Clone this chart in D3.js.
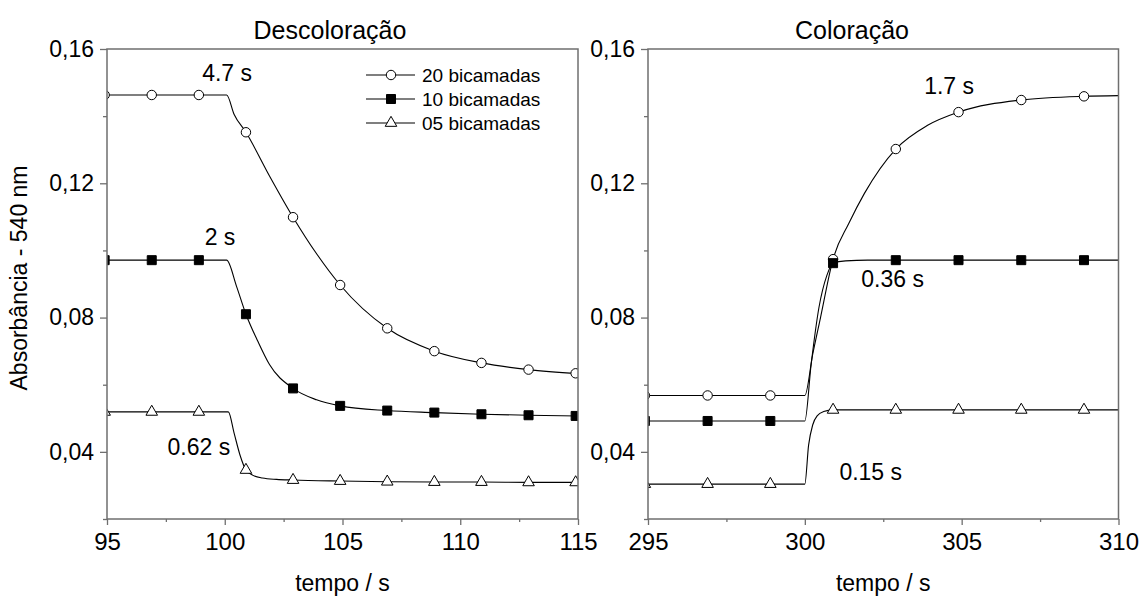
<!DOCTYPE html>
<html>
<head>
<meta charset="utf-8">
<script src="https://cdn.jsdelivr.net/npm/d3@7"></script>
<style>
  body { margin: 0; background: #fff; }
  svg { font-family: "Liberation Sans", Arial, sans-serif; }
  .frame { fill: none; stroke: #6f6f6f; stroke-width: 1.5; }
  .tick line { stroke: #6f6f6f; stroke-width: 1.3; }
  .domain { display: none; }
  .tick text { fill: #000; }
  path.curve { fill: none; stroke: #000; stroke-width: 1.1; }
</style>
</head>
<body>
<div id="chart"></div>
<script>
// valores (absorbância a 540 nm)
var series = ["20 bicamadas", "10 bicamadas", "05 bicamadas"];
var symbols = ["circle", "square", "triangle"];

// Descoloração
var descT = [94.9, 96.9, 98.9, 100.9, 102.9, 104.9, 106.9, 108.9, 110.9, 112.9, 114.9];
var desc20 = [0.1463, 0.1463, 0.1463, 0.1352, 0.1099, 0.0897, 0.0768, 0.0700, 0.0665, 0.0645, 0.0634];
var desc10 = [0.0971, 0.0971, 0.0971, 0.0810, 0.0589, 0.0537, 0.0523, 0.0517, 0.0512, 0.0509, 0.0507];
var desc05 = [0.0519, 0.0519, 0.0519, 0.0346, 0.0316, 0.0313, 0.0311, 0.0310, 0.0310, 0.0309, 0.0309];

var descLineT20 = [95, 100.08, 100.4, 100.9, 101.9, 102.9, 103.9, 104.9, 106.9, 108.9, 110.9, 112.9, 115];
var descLine20 = [0.1463, 0.1463, 0.1405, 0.1352, 0.1222, 0.1099, 0.0990, 0.0897, 0.0768, 0.0700, 0.0665, 0.0645, 0.0633];
var descLineT10 = [95, 100.08, 100.5, 100.9, 101.4, 101.9, 102.9, 103.9, 104.9, 106.9, 108.9, 110.9, 112.9, 115];
var descLine10 = [0.0971, 0.0971, 0.0893, 0.0810, 0.0730, 0.0660, 0.0589, 0.0555, 0.0537, 0.0523, 0.0517, 0.0512, 0.0509, 0.0507];
var descLineT05 = [95, 100.15, 100.4, 100.65, 100.9, 101.2, 101.6, 102.2, 102.9, 104.9, 106.9, 108.9, 110.9, 112.9, 115];
var descLine05 = [0.0519, 0.0519, 0.0455, 0.0390, 0.0346, 0.0330, 0.0322, 0.0318, 0.0316, 0.0313, 0.0311, 0.0310, 0.0310, 0.0309, 0.0309];

// Coloração
var colT = [294.9, 296.9, 298.9, 300.9, 302.9, 304.9, 306.9, 308.9];
var col20 = [0.0568, 0.0568, 0.0568, 0.0974, 0.1302, 0.1412, 0.1448, 0.1459];
var col10 = [0.0492, 0.0492, 0.0492, 0.0962, 0.0971, 0.0971, 0.0971, 0.0971];
var col05 = [0.0304, 0.0304, 0.0304, 0.0525, 0.0525, 0.0525, 0.0525, 0.0525];

var colLineT20 = [295, 300.0, 300.25, 300.5, 300.9, 301.4, 301.9, 302.9, 303.9, 304.9, 306.9, 308.9, 310];
var colLine20 = [0.0568, 0.0568, 0.0690, 0.0800, 0.0974, 0.1080, 0.1170, 0.1302, 0.1372, 0.1412, 0.1448, 0.1459, 0.1461];
var colLineT10 = [295, 300.0, 300.2, 300.45, 300.7, 300.9, 301.3, 302, 310];
var colLine10 = [0.0492, 0.0492, 0.0660, 0.0830, 0.0925, 0.0962, 0.0969, 0.0971, 0.0971];
var colLineT05 = [295, 300.0, 300.12, 300.25, 300.4, 300.6, 300.9, 310];
var colLine05 = [0.0304, 0.0304, 0.0420, 0.0480, 0.0508, 0.0520, 0.0525, 0.0525];

var yTicks = [0.04, 0.08, 0.12, 0.16];
var yMinor = [0.02, 0.06, 0.10, 0.14];
var descTicks = [95, 100, 105, 110, 115];
var descMinor = [97.5, 102.5, 107.5, 112.5];
var colTicks = [295, 300, 305, 310];
var colMinor = [297.5, 302.5, 307.5];

var annDesc = [{label: "4.7 s", t: 100.1, v: 0.1530}, {label: "2 s", t: 99.8, v: 0.1040}, {label: "0.62 s", t: 98.9, v: 0.0415}];
var annCol = [{label: "1.7 s", t: 304.6, v: 0.1489}, {label: "0.36 s", t: 302.8, v: 0.0915}, {label: "0.15 s", t: 302.1, v: 0.0340}];

var w = 1142, h = 597;
var top_ = 49, bottom = 519;
var svg = d3.select("#chart").append("svg").attr("width", w).attr("height", h);

var y = d3.scaleLinear().domain([0.02, 0.16]).range([bottom, top_]);
var fmt = function(d) { return d3.format(".2f")(d).replace(".", ","); };

function zip(ts, vs) { return ts.map(function(t, i) { return {t: t, v: vs[i]}; }); }

function panel(id, x0, x1, domain, ticks, minor, title, titleX, lines, markT, marks, ann) {
  var x = d3.scaleLinear().domain(domain).range([x0, x1]);
  var g = svg.append("g").attr("class", "panel-" + id);

  svg.append("clipPath").attr("id", "clip-" + id)
    .append("rect").attr("x", x0).attr("y", top_).attr("width", x1 - x0).attr("height", bottom - top_);

  // eixos
  g.append("g").attr("transform", "translate(0," + bottom + ")")
    .call(d3.axisBottom(x).tickValues(ticks).tickSize(6).tickPadding(8).tickSizeOuter(0).tickFormat(d3.format("d")))
    .call(function(s) { s.selectAll("text").attr("font-size", 24); });
  g.append("g").attr("transform", "translate(0," + bottom + ")")
    .call(d3.axisBottom(x).tickValues(minor).tickSize(3).tickFormat(""));
  g.append("g").attr("transform", "translate(" + x0 + ",0)")
    .call(d3.axisLeft(y).tickValues(yTicks).tickSize(7).tickPadding(6).tickSizeOuter(0).tickFormat(fmt))
    .call(function(s) { s.selectAll("text").attr("font-size", 23); });
  g.append("g").attr("transform", "translate(" + x0 + ",0)")
    .call(d3.axisLeft(y).tickValues(yMinor).tickSize(4).tickFormat(""));

  var plot = g.append("g").attr("clip-path", "url(#clip-" + id + ")");
  var line = d3.line().x(function(d) { return x(d.t); }).y(function(d) { return y(d.v); }).curve(d3.curveMonotoneX);

  lines.forEach(function(l) {
    plot.append("path").attr("class", "curve").attr("d", line(l));
  });

  marks.forEach(function(vals, i) {
    plot.selectAll("path.m" + i)
      .data(zip(markT, vals))
      .enter().append("path")
      .attr("class", "m" + i)
      .attr("transform", function(d) { return "translate(" + x(d.t) + "," + y(d.v) + ")"; })
      .attr("d", symbolPath(symbols[i]))
      .attr("fill", symbols[i] == "square" ? "#000" : "#fff")
      .attr("stroke", "#000").attr("stroke-width", 1);
  });

  g.append("rect").attr("class", "frame")
    .attr("x", x0).attr("y", top_).attr("width", x1 - x0).attr("height", bottom - top_);

  g.selectAll("text.ann").data(ann).enter().append("text")
    .attr("class", "ann")
    .attr("x", function(d) { return x(d.t); })
    .attr("y", function(d) { return y(d.v); })
    .attr("text-anchor", "middle").attr("dominant-baseline", "central")
    .attr("font-size", 23)
    .text(function(d) { return d.label; });

  g.append("text").attr("x", titleX).attr("y", 39).attr("text-anchor", "middle")
    .attr("font-size", 25).text(title);
  g.append("text").attr("x", (x0 + x1) / 2).attr("y", 591).attr("text-anchor", "middle")
    .attr("font-size", 23).text("tempo / s");
  return x;
}

function symbolPath(name) {
  if (name == "circle") return d3.symbol(d3.symbolCircle, 70)();
  if (name == "square") return d3.symbol(d3.symbolSquare, 81)();
  return d3.symbol(d3.symbolTriangle, 58)();
}

panel("desc", 107, 578, [95, 115], descTicks, descMinor, "Descoloração", 330,
  [zip(descLineT20, descLine20), zip(descLineT10, descLine10), zip(descLineT05, descLine05)],
  descT, [desc20, desc10, desc05], annDesc);

panel("col", 648, 1118.5, [295, 310], colTicks, colMinor, "Coloração", 852,
  [zip(colLineT20, colLine20), zip(colLineT10, colLine10), zip(colLineT05, colLine05)],
  colT, [col20, col10, col05], annCol);

svg.append("text")
  .attr("transform", "translate(19," + 278 + ") rotate(-90)")
  .attr("text-anchor", "middle").attr("dominant-baseline", "central")
  .attr("font-size", 23)
  .text("Absorbância - 540 nm");

// legenda
var leg = svg.append("g").attr("transform", "translate(366,75)");
var rows = leg.selectAll("g").data(series).enter().append("g")
  .attr("transform", function(d, i) { return "translate(0," + i * 24 + ")"; });
rows.append("line").attr("x1", 0).attr("x2", 49).attr("stroke", "#000").attr("stroke-width", 1.1);
rows.append("path")
  .attr("transform", "translate(25,0)")
  .attr("d", function(d, i) { return symbolPath(symbols[i]); })
  .attr("fill", function(d, i) { return symbols[i] == "square" ? "#000" : "#fff"; })
  .attr("stroke", "#000");
rows.append("text").attr("x", 56).attr("dominant-baseline", "central")
  .attr("font-size", 19).text(function(d) { return d; });
</script>
</body>
</html>
